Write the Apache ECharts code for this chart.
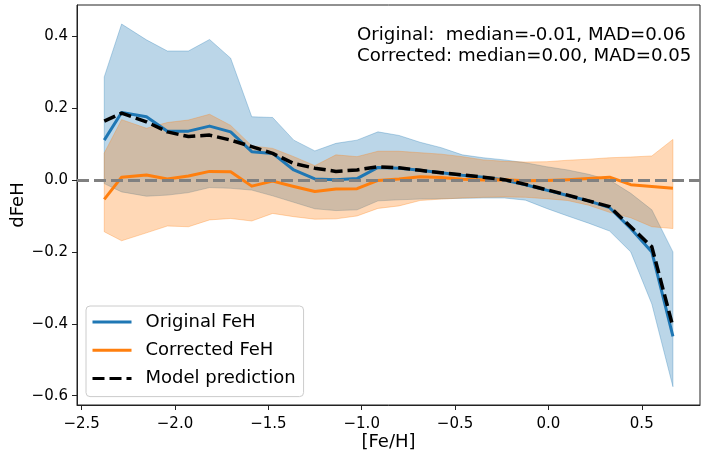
<!DOCTYPE html>
<html>
<head>
<meta charset="utf-8">
<script src="https://cdn.jsdelivr.net/npm/echarts@6/dist/echarts.min.js"></script>
<style>
  html, body { margin: 0; padding: 0; background: #ffffff; }
  #chart { width: 702px; height: 452px; }
</style>
</head>
<body>
<div id="chart"></div>
<script>
// Bin centres in [Fe/H]
const feh = [-2.379, -2.286, -2.153, -2.041, -1.928, -1.815, -1.702, -1.589, -1.477, -1.364,
             -1.251, -1.138, -1.025, -0.913, -0.800, -0.687, -0.574, -0.461, -0.349, -0.236,
             -0.123, -0.010, 0.103, 0.215, 0.328, 0.441, 0.554, 0.667];

// Original FeH residuals: running median and spread band
const origMedian = [0.111, 0.188, 0.176, 0.136, 0.136, 0.150, 0.134, 0.079, 0.074, 0.028,
                    0.003, 0.001, 0.004, 0.035, 0.033, 0.027, 0.020, 0.013, 0.008, 0.000,
                    -0.013, -0.028, -0.043, -0.058, -0.077, -0.135, -0.200, -0.435];
const origLow = [-0.010, -0.033, -0.045, -0.042, -0.035, -0.021, -0.023, -0.028, -0.044, -0.062,
                 -0.080, -0.085, -0.083, -0.058, -0.055, -0.053, -0.052, -0.051, -0.050, -0.050,
                 -0.056, -0.079, -0.100, -0.120, -0.142, -0.200, -0.345, -0.575];
const origHigh = [0.287, 0.434, 0.390, 0.359, 0.359, 0.391, 0.339, 0.176, 0.174, 0.111,
                  0.081, 0.102, 0.111, 0.134, 0.124, 0.105, 0.090, 0.070, 0.062, 0.056,
                  0.048, 0.037, 0.028, 0.016, 0.000, -0.037, -0.083, -0.200];

// Corrected FeH residuals: running median and spread band
const corrMedian = [-0.054, 0.008, 0.014, 0.003, 0.011, 0.024, 0.023, -0.017, -0.003, -0.018,
                    -0.032, -0.025, -0.024, -0.001, 0.003, 0.009, 0.007, 0.002, 0.000, 0.001,
                    -0.002, -0.001, 0.001, 0.004, 0.008, -0.013, -0.018, -0.023];
const corrLow = [-0.144, -0.169, -0.147, -0.128, -0.130, -0.111, -0.107, -0.114, -0.093, -0.102,
                 -0.109, -0.108, -0.100, -0.079, -0.072, -0.057, -0.053, -0.050, -0.048, -0.047,
                 -0.048, -0.052, -0.057, -0.070, -0.090, -0.105, -0.130, -0.135];
const corrHigh = [0.075, 0.168, 0.144, 0.160, 0.167, 0.183, 0.152, 0.095, 0.088, 0.065,
                  0.040, 0.070, 0.065, 0.080, 0.080, 0.076, 0.072, 0.065, 0.056, 0.052,
                  0.050, 0.051, 0.055, 0.058, 0.062, 0.064, 0.067, 0.113];

// Model prediction of the residual
const modelPred = [0.164, 0.186, 0.162, 0.134, 0.121, 0.125, 0.111, 0.093, 0.074, 0.046,
                   0.033, 0.024, 0.028, 0.037, 0.034, 0.027, 0.020, 0.014, 0.008, 0.001,
                   -0.012, -0.027, -0.042, -0.058, -0.074, -0.130, -0.186, -0.408];

const xTicks = [-2.5, -2.0, -1.5, -1.0, -0.5, 0.0, 0.5];
const yTicks = [-0.6, -0.4, -0.2, 0.0, 0.2, 0.4];
const seriesNames = ['Original FeH', 'Corrected FeH', 'Model prediction'];
const statsLines = ['Original:  median=-0.01, MAD=0.06', 'Corrected: median=0.00, MAD=0.05'];

const FONT = 'DejaVu Sans';
const BLUE = '#1f77b4';
const ORANGE = '#ff7f0e';

const fmt = v => (v < 0 ? '\u2212' : '') + Math.abs(v).toFixed(1);
const pairs = ys => feh.map((x, i) => [x, ys[i]]);

// Shaded band between two curves, drawn as one polygon through the axis scales
function band(name, lo, hi, color, z) {
  return {
    type: 'custom', name: name, z: z, silent: true,
    data: feh.map((x, i) => [x, lo[i], hi[i]]),
    encode: { x: 0, y: [1, 2] },
    renderItem: function (params, api) {
      if (params.dataIndex !== 0) return null;
      const pts = [];
      for (let i = 0; i < feh.length; i++) pts.push(api.coord([feh[i], hi[i]]));
      for (let i = feh.length - 1; i >= 0; i--) pts.push(api.coord([feh[i], lo[i]]));
      return {
        type: 'polygon',
        shape: { points: pts },
        style: { fill: color, stroke: color, lineWidth: 1, opacity: 0.3 }
      };
    }
  };
}

function curve(name, ys, color, width, dash, z) {
  return {
    type: 'line', name: name, z: z,
    data: pairs(ys),
    symbol: 'none', showSymbol: false,
    itemStyle: { color: color },
    lineStyle: { color: color, width: width, type: dash, join: 'round', cap: 'butt' },
    emphasis: { disabled: true }
  };
}

const chart = echarts.init(document.getElementById('chart'), null, { renderer: 'canvas' });

chart.setOption({
  animation: false,
  backgroundColor: '#ffffff',
  textStyle: { fontFamily: FONT },
  grid: {
    left: 77, right: 2, top: 5, bottom: 47,
    show: true, borderColor: '#222222', borderWidth: 1,
    containLabel: false, outerBoundsMode: 'none'
  },
  xAxis: {
    type: 'value', min: -2.525, max: 0.812,
    name: '[Fe/H]', nameLocation: 'middle', nameGap: 28, nameMoveOverlap: false,
    nameTextStyle: { fontFamily: FONT, fontSize: 18, color: '#000' },
    axisLine: { show: true, onZero: false, lineStyle: { color: '#222222', width: 1 } },
    axisTick: { show: true, inside: false, length: 5, lineStyle: { color: '#222222', width: 1 }, customValues: xTicks },
    axisLabel: { fontFamily: FONT, fontSize: 15, color: '#000', margin: 12, formatter: fmt, customValues: xTicks },
    splitLine: { show: false }
  },
  yAxis: {
    type: 'value', min: -0.626, max: 0.487,
    name: 'dFeH', nameLocation: 'middle', nameGap: 50, nameRotate: 90, nameMoveOverlap: false,
    nameTextStyle: { fontFamily: FONT, fontSize: 18, color: '#000' },
    axisLine: { show: true, onZero: false, lineStyle: { color: '#222222', width: 1 } },
    axisTick: { show: true, inside: false, length: 5, lineStyle: { color: '#222222', width: 1 }, customValues: yTicks },
    axisLabel: { fontFamily: FONT, fontSize: 15, color: '#000', margin: 9, formatter: fmt, customValues: yTicks },
    splitLine: { show: false }
  },
  legend: {
    data: seriesNames,
    orient: 'vertical', left: 86, top: 306,
    itemWidth: 39, itemHeight: 20, itemGap: 8.3,
    padding: [6, 8, 8, 5],
    backgroundColor: 'rgba(255,255,255,0.8)',
    borderColor: '#cccccc', borderWidth: 1, borderRadius: 4,
    selectedMode: false,
    itemStyle: { opacity: 0, borderWidth: 0 },
    lineStyle: { width: 3 },
    textStyle: { fontFamily: FONT, fontSize: 18, lineHeight: 20, color: '#000', padding: [0, 0, 0, 9] }
  },
  graphic: [{
    type: 'text', left: 357, top: 25, z: 100,
    style: {
      text: statsLines.join('\n'),
      font: '18.2px "DejaVu Sans"', fill: '#000', lineHeight: 21
    }
  }],
  series: [
    band('Original band', origLow, origHigh, BLUE, 1),
    band('Corrected band', corrLow, corrHigh, ORANGE, 2),
    curve(seriesNames[0], origMedian, BLUE, 3, 'solid', 3),
    curve(seriesNames[1], corrMedian, ORANGE, 3, 'solid', 4),
    curve(seriesNames[2], modelPred, '#000000', 3.5, [12, 5], 5),
    {
      type: 'line', name: 'zero', z: 6, data: [],
      markLine: {
        silent: true, symbol: 'none', animation: false,
        label: { show: false },
        lineStyle: { color: '#808080', width: 3, type: [12, 5] },
        emphasis: { disabled: true },
        data: [{ yAxis: 0 }]
      }
    }
  ]
});
</script>
</body>
</html>
